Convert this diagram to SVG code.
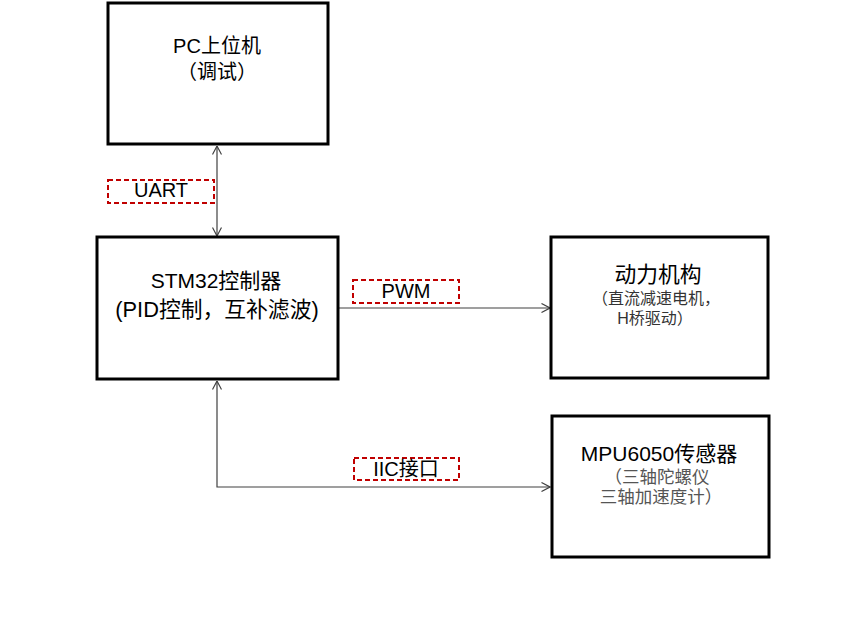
<svg xmlns="http://www.w3.org/2000/svg" width="867" height="638" viewBox="0 0 867 638">
<defs>
<style>
.box{fill:#fff;stroke:#000;stroke-width:3}
.lbl{fill:none;stroke:#c00000;stroke-width:2;stroke-dasharray:5 3}
.con{fill:none;stroke:#404040;stroke-width:1.2}
text{font-family:'Liberation Sans','Noto Sans CJK SC',sans-serif;text-anchor:middle;fill:#000}
.t20{font-size:20px}
.t21{font-size:21px}
.t22{font-size:21.8px}
.sub15{font-size:16px;fill:#333}
.sub17{font-size:17.5px;fill:#555}
</style>
<marker id="arr" viewBox="0 0 10 10" refX="9.5" refY="5" markerWidth="10" markerHeight="10" markerUnits="userSpaceOnUse" orient="auto-start-reverse">
<path d="M1,0.5 L9.5,5 L1,9.5" fill="none" stroke="#404040" stroke-width="1.2"/>
</marker>
</defs>
<rect width="867" height="638" fill="#fff"/>
<g id="connectors">
<path class="con" d="M217,146 V236" marker-start="url(#arr)" marker-end="url(#arr)"/>
<path class="con" d="M339,308 H550" marker-end="url(#arr)"/>
<path class="con" d="M550,487 H217 V381" marker-start="url(#arr)" marker-end="url(#arr)"/>
</g>
<g id="pc">
<rect class="box" x="108" y="3" width="220" height="141"/>
<text class="t20" x="217" y="53">PC上位机</text>
<text class="t20" x="217" y="79">（调试）</text>
</g>
<g id="stm32">
<rect class="box" x="97" y="237" width="241" height="142"/>
<text class="t21" x="216" y="288">STM32控制器</text>
<text class="t22" x="217" y="317">(PID控制，互补滤波)</text>
</g>
<g id="motor">
<rect class="box" x="551" y="237" width="217" height="141"/>
<text class="t22" x="658" y="282">动力机构</text>
<text class="sub15" x="656" y="304">（直流减速电机，</text>
<text class="sub15" x="655" y="324">H桥驱动）</text>
</g>
<g id="mpu">
<rect class="box" x="552" y="416" width="217" height="141"/>
<text class="t21" x="659" y="461">MPU6050传感器</text>
<text class="sub17" x="657" y="483">（三轴陀螺仪</text>
<text class="sub17" x="661" y="503">三轴加速度计）</text>
</g>
<g id="label-uart">
<rect class="lbl" x="108" y="180" width="106" height="23"/>
<text class="t20" x="161" y="197">UART</text>
</g>
<g id="label-pwm">
<rect class="lbl" x="353" y="280" width="106" height="23"/>
<text class="t20" x="406" y="298">PWM</text>
</g>
<g id="label-iic">
<rect class="lbl" x="354" y="458" width="105" height="22"/>
<text class="t20" x="406" y="476">IIC接口</text>
</g>
</svg>
